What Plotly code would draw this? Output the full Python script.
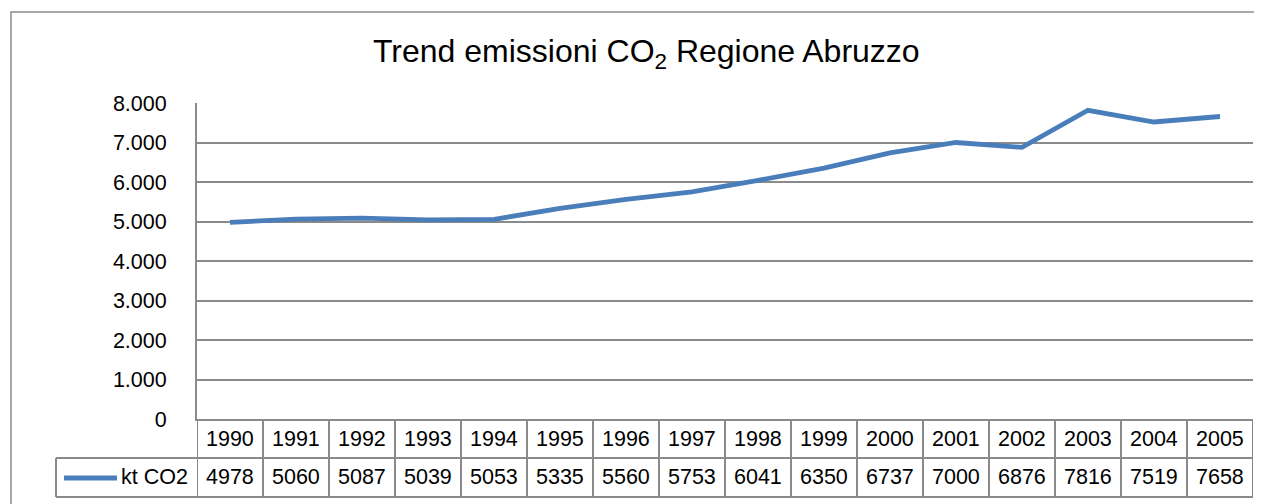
import plotly.graph_objects as go

years = ["1990", "1991", "1992", "1993", "1994", "1995", "1996", "1997",
         "1998", "1999", "2000", "2001", "2002", "2003", "2004", "2005"]
kt_co2 = [4978, 5060, 5087, 5039, 5053, 5335, 5560, 5753,
          6041, 6350, 6737, 7000, 6876, 7816, 7519, 7658]
y_tickvals = [0, 1000, 2000, 3000, 4000, 5000, 6000, 7000, 8000]
y_ticktext = ["0", "1.000", "2.000", "3.000", "4.000", "5.000", "6.000", "7.000", "8.000"]
series_name = "kt CO2"
title_text = "Trend emissioni CO<sub>2</sub> Regione Abruzzo"

# page body has an 8px margin; draw everything shifted back by it
OFF = 8
W, H = 1262 - OFF, 504 - OFF
L, T = 197 - OFF, 103 - OFF
R = W - (1253 - OFF)
B = H - (419 - OFF)
pw, ph = W - L - R, H - T - B

def px_x(x):
    return (x - OFF - L) / pw

def px_y(y):
    return (H - B - (y - OFF)) / ph

TXT = "Liberation Sans, Arial, sans-serif"
GRID = "#8a8a8a"
BLUE = "#4a7ebb"
FS = 21.5

xs = list(range(len(years)))

fig = go.Figure()
fig.add_trace(go.Scatter(x=xs, y=kt_co2, mode="lines", name=series_name,
                         line=dict(color=BLUE, width=4.8), showlegend=False))

shapes = []
annotations = []

row1_bot = px_y(458)
row2_bot = px_y(497)
leg_left = px_x(56)

for i in range(len(years) + 1):
    shapes.append(dict(type="line", xref="x", yref="paper", x0=i - 0.5, x1=i - 0.5,
                       y0=0, y1=row2_bot, line=dict(color=GRID, width=2)))
shapes.append(dict(type="line", xref="paper", yref="paper", x0=leg_left, x1=1,
                   y0=row1_bot, y1=row1_bot, line=dict(color=GRID, width=2)))
shapes.append(dict(type="line", xref="paper", yref="paper", x0=leg_left, x1=1,
                   y0=row2_bot, y1=row2_bot, line=dict(color=GRID, width=2)))
shapes.append(dict(type="line", xref="paper", yref="paper", x0=leg_left, x1=leg_left,
                   y0=row1_bot, y1=row2_bot, line=dict(color=GRID, width=2)))
shapes.append(dict(type="line", xref="paper", yref="paper", x0=px_x(64), x1=px_x(117),
                   y0=px_y(478), y1=px_y(478), line=dict(color=BLUE, width=4.8)))
shapes.append(dict(type="rect", xref="paper", yref="paper", x0=px_x(11), x1=px_x(1290),
                   y0=px_y(530), y1=px_y(12), line=dict(color="#8c8c8c", width=1.5),
                   layer="below"))

for i, (yr, v) in enumerate(zip(years, kt_co2)):
    annotations.append(dict(x=i, y=px_y(438.5), xref="x", yref="paper", text=yr,
                            showarrow=False, font=dict(family=TXT, size=FS, color="#000"),
                            xanchor="center", yanchor="middle"))
    annotations.append(dict(x=i, y=px_y(477.5), xref="x", yref="paper", text=str(v),
                            showarrow=False, font=dict(family=TXT, size=FS, color="#000"),
                            xanchor="center", yanchor="middle"))
annotations.append(dict(x=px_x(190), y=px_y(477.5), xref="paper", yref="paper",
                        text=series_name, showarrow=False,
                        font=dict(family=TXT, size=FS, color="#000"),
                        xanchor="right", yanchor="middle"))
annotations.append(dict(x=px_x(646), y=px_y(53), xref="paper", yref="paper",
                        text=title_text, showarrow=False,
                        font=dict(family=TXT, size=32, color="#000"),
                        xanchor="center", yanchor="middle"))

fig.update_layout(
    width=W, height=H,
    margin=dict(l=L, r=R, t=T, b=B, pad=0),
    paper_bgcolor="white", plot_bgcolor="white",
    shapes=shapes, annotations=annotations,
    showlegend=False,
    xaxis=dict(range=[-0.5, len(years) - 0.5], showgrid=False, zeroline=False,
               showticklabels=False, ticks="", showline=True, linecolor=GRID,
               linewidth=2, fixedrange=True),
    yaxis=dict(range=[0, 8000], tickvals=y_tickvals, ticktext=y_ticktext,
               showgrid=True, gridcolor=GRID, gridwidth=1.5, zeroline=False,
               showline=True, linecolor=GRID, linewidth=2, ticks="",
               ticklabelstandoff=24,
               tickfont=dict(family=TXT, size=FS, color="#000"), fixedrange=True),
)

fig.write_html("out.html")
